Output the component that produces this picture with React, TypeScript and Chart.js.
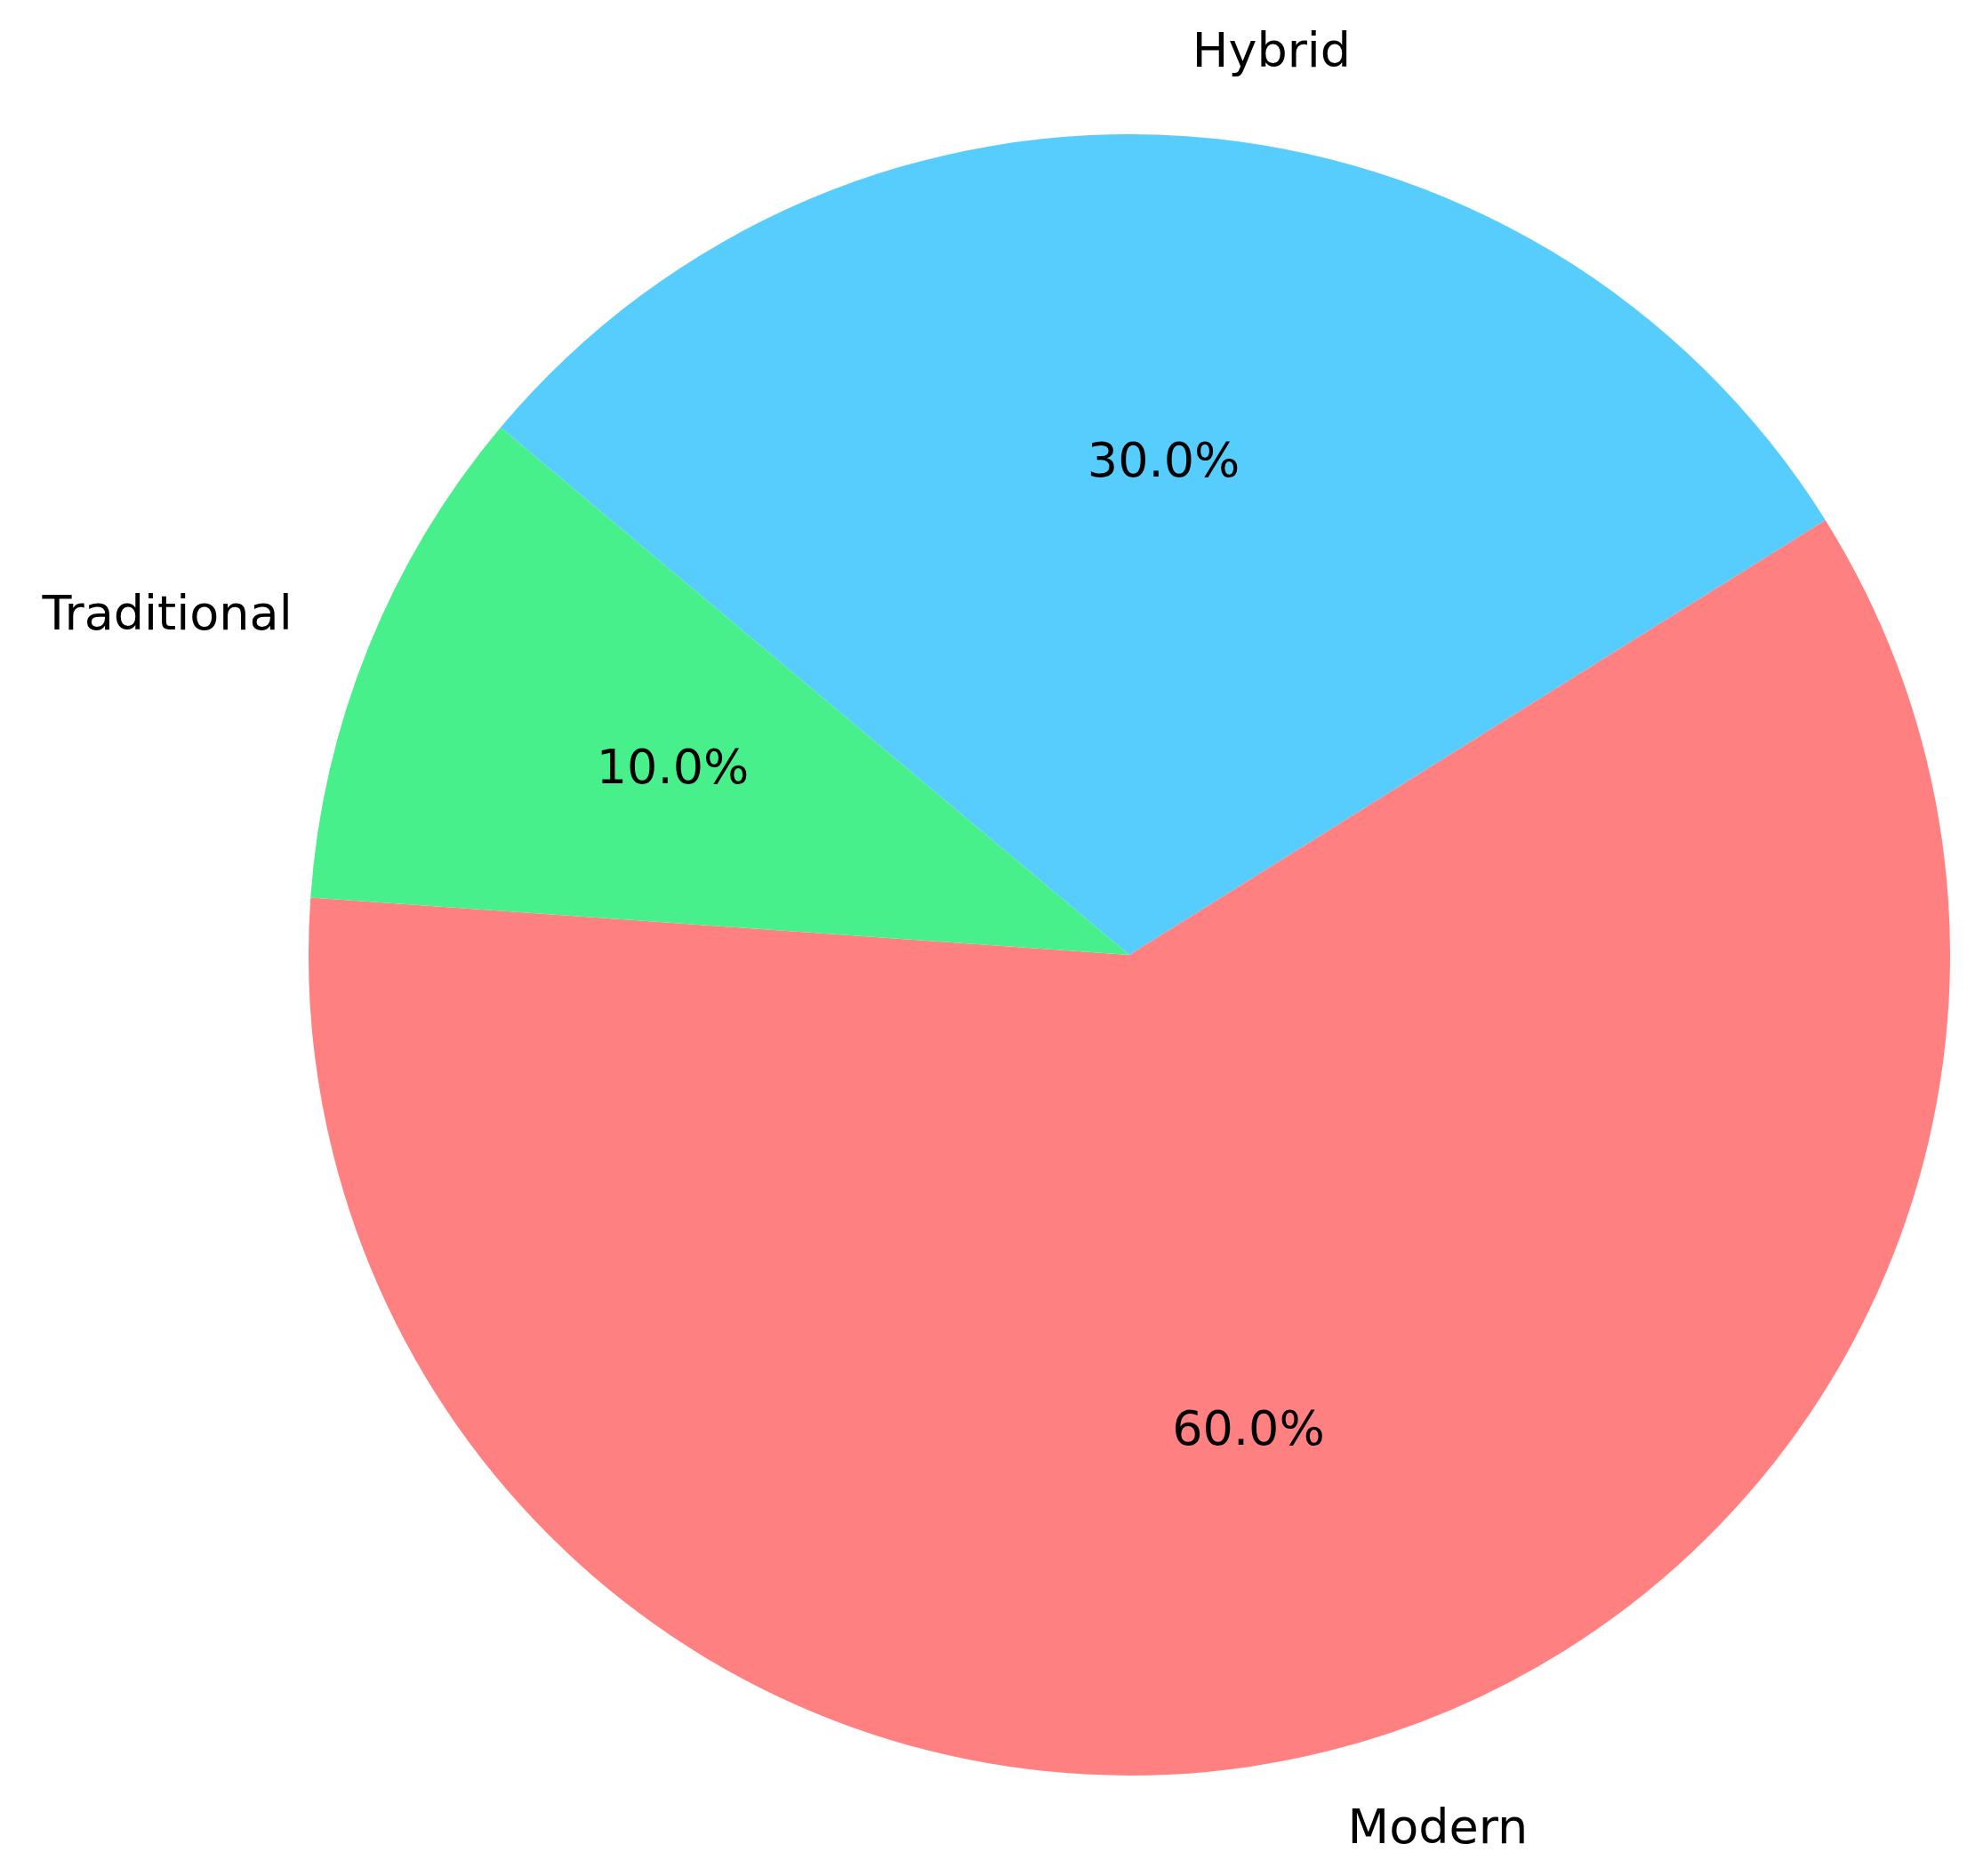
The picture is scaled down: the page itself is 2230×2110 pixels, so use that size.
import React, { useEffect, useRef } from "react";
import { Chart, registerables } from "chart.js";

Chart.register(...registerables);

const categories = ["Hybrid", "Modern", "Traditional"];
const shares = [30, 60, 10];
const sliceColors = ["#57CDFE", "#FF8080", "#48F08C"];

const FONT_SIZE = 54;
const FONT = `${FONT_SIZE}px "DejaVu Sans"`;

const pieLabels = {
  id: "pieLabels",
  afterDatasetsDraw(chart: any) {
    const meta = chart.getDatasetMeta(0);
    const ctx = chart.ctx;
    const values: number[] = chart.data.datasets[0].data;
    const total = values.reduce((a, b) => a + b, 0);
    ctx.save();
    ctx.font = FONT;
    ctx.fillStyle = "#000000";
    ctx.textBaseline = "alphabetic";
    meta.data.forEach((arc: any, i: number) => {
      const { x, y, startAngle, endAngle, outerRadius } = arc.getProps(
        ["x", "y", "startAngle", "endAngle", "outerRadius"],
        true
      );
      const mid = (startAngle + endAngle) / 2;
      const c = Math.cos(mid);
      const s = Math.sin(mid);
      const off = FONT_SIZE * 0.26;
      const pct = ((values[i] / total) * 100).toFixed(1) + "%";
      ctx.textAlign = "center";
      ctx.fillText(pct, x + c * outerRadius * 0.6, y + s * outerRadius * 0.6 + off);
      ctx.textAlign = c >= 0 ? "left" : "right";
      ctx.fillText(
        chart.data.labels[i],
        x + c * outerRadius * 1.1,
        y + s * outerRadius * 1.1 + off
      );
    });
    ctx.restore();
  },
};

export default function App() {
  const ref = useRef<HTMLCanvasElement | null>(null);
  useEffect(() => {
    if (!ref.current) return;
    const chart = new Chart(ref.current, {
      type: "pie",
      data: {
        labels: categories,
        datasets: [
          {
            data: shares,
            backgroundColor: sliceColors,
            borderWidth: 0,
          },
        ],
      },
      options: {
        responsive: false,
        animation: false,
        rotation: -50,
        layout: { padding: { left: 347, top: 151, right: 37, bottom: 113 } },
        plugins: {
          legend: { display: false },
          tooltip: { enabled: false },
        },
      },
      plugins: [pieLabels],
    });
    return () => chart.destroy();
  }, []);
  return (
    <div style={{ position: "absolute", left: 0, top: 0, width: 2230, height: 2110, background: "#ffffff" }}>
      <canvas ref={ref} width={2230} height={2110} style={{ width: 2230, height: 2110 }} />
    </div>
  );
}
